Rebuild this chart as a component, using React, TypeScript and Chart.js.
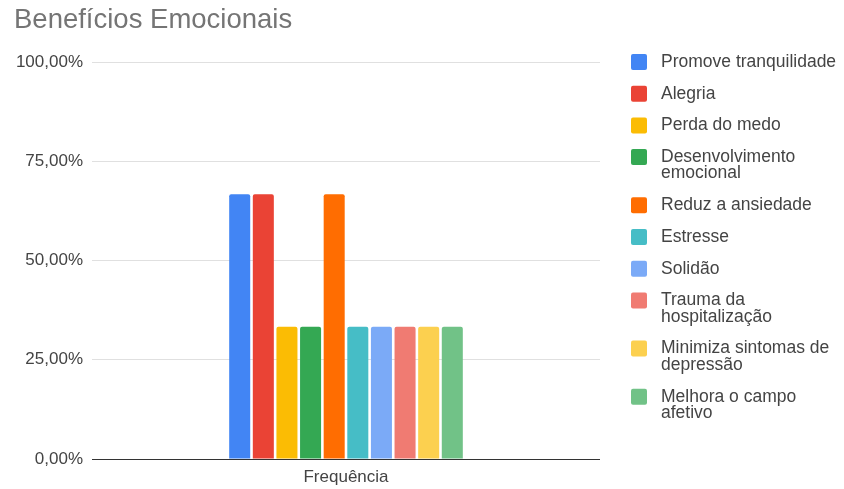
import React, { useEffect, useRef } from "react";
import { Chart, registerables } from "chart.js";

Chart.register(...registerables);

const title = "Benefícios Emocionais";
const categories = ["Frequência"];
const seriesLabels = [
  "Promove tranquilidade",
  "Alegria",
  "Perda do medo",
  "Desenvolvimento emocional",
  "Reduz a ansiedade",
  "Estresse",
  "Solidão",
  "Trauma da hospitalização",
  "Minimiza sintomas de depressão",
  "Melhora o campo afetivo",
];
const seriesValues = [66.67, 66.67, 33.33, 33.33, 66.67, 33.33, 33.33, 33.33, 33.33, 33.33];
const seriesColors = [
  "#4285F4",
  "#EA4335",
  "#FBBC04",
  "#34A853",
  "#FF6D01",
  "#46BDC6",
  "#7BAAF7",
  "#F07B72",
  "#FCD04F",
  "#71C287",
];
const yTicks = [0, 25, 50, 75, 100];

const FONT = "'Liberation Sans', Arial, sans-serif";

const fmt = (v: number) => v.toFixed(2).replace(".", ",") + "%";

const legendPlugin = {
  id: "sideLegend",
  afterDraw(chart: any) {
    const ctx = chart.ctx as CanvasRenderingContext2D;
    const boxX = 631;
    const textX = 661;
    const maxW = chart.width - textX - 1;
    const lineH = 16.5;
    const gap = 31.7;
    let y = 62;
    ctx.save();
    ctx.font = `17.5px ${FONT}`;
    ctx.textBaseline = "middle";
    ctx.textAlign = "left";
    chart.data.datasets.forEach((ds: any) => {
      const words = String(ds.label).split(" ");
      const lines: string[] = [];
      let cur = "";
      words.forEach((w) => {
        const test = cur ? cur + " " + w : w;
        if (ctx.measureText(test).width > maxW && cur) {
          lines.push(cur);
          cur = w;
        } else cur = test;
      });
      if (cur) lines.push(cur);
      ctx.fillStyle = ds.backgroundColor;
      ctx.beginPath();
      (ctx as any).roundRect(boxX, y - 8, 16, 16, 2);
      ctx.fill();
      ctx.fillStyle = "#444444";
      lines.forEach((l, i) => ctx.fillText(l, textX, y + i * lineH));
      y += (lines.length - 1) * lineH + gap;
    });
    ctx.restore();
  },
};

export default function App() {
  const ref = useRef<HTMLCanvasElement>(null);
  useEffect(() => {
    document.body.style.margin = "0";
    const chart = new Chart(ref.current!, {
      type: "bar",
      data: {
        labels: categories,
        datasets: seriesLabels.map((label, i) => ({
          label,
          data: [seriesValues[i]],
          backgroundColor: seriesColors[i],
          borderRadius: 2,
          categoryPercentage: 0.465,
          barPercentage: 0.89,
        })),
      },
      options: {
        responsive: false,
        animation: false,
        devicePixelRatio: 1,
        layout: { padding: { left: 14, right: 244, top: 0, bottom: 0 } },
        plugins: {
          legend: { display: false },
          tooltip: { enabled: false },
          title: {
            display: true,
            text: title,
            align: "start",
            color: "#757575",
            font: { size: 27.5, family: FONT, weight: "normal" },
            padding: { top: 4, bottom: 25 },
          },
        },
        scales: {
          x: {
            grid: { display: false },
            border: { display: false },
            ticks: { color: "#444444", font: { size: 17, family: FONT }, padding: 0 },
            afterFit: (s: any) => {
              s.height = 30;
            },
          },
          y: {
            min: 0,
            max: 100,
            afterBuildTicks: (s: any) => {
              s.ticks = yTicks.map((v) => ({ value: v }));
            },
            ticks: {
              color: "#444444",
              font: { size: 17, family: FONT },
              padding: 9,
              callback: (v: any) => fmt(Number(v)),
            },
            grid: {
              drawTicks: false,
              color: (c: any) => (c.tick && c.tick.value === 0 ? "#333333" : "#e0e0e0"),
              lineWidth: 1,
            },
            border: { display: false },
            afterFit: (s: any) => {
              s.width = 78;
            },
          },
        },
      },
      plugins: [legendPlugin],
    });
    return () => chart.destroy();
  }, []);
  return <canvas ref={ref} width={844} height={489} style={{ display: "block" }} />;
}
